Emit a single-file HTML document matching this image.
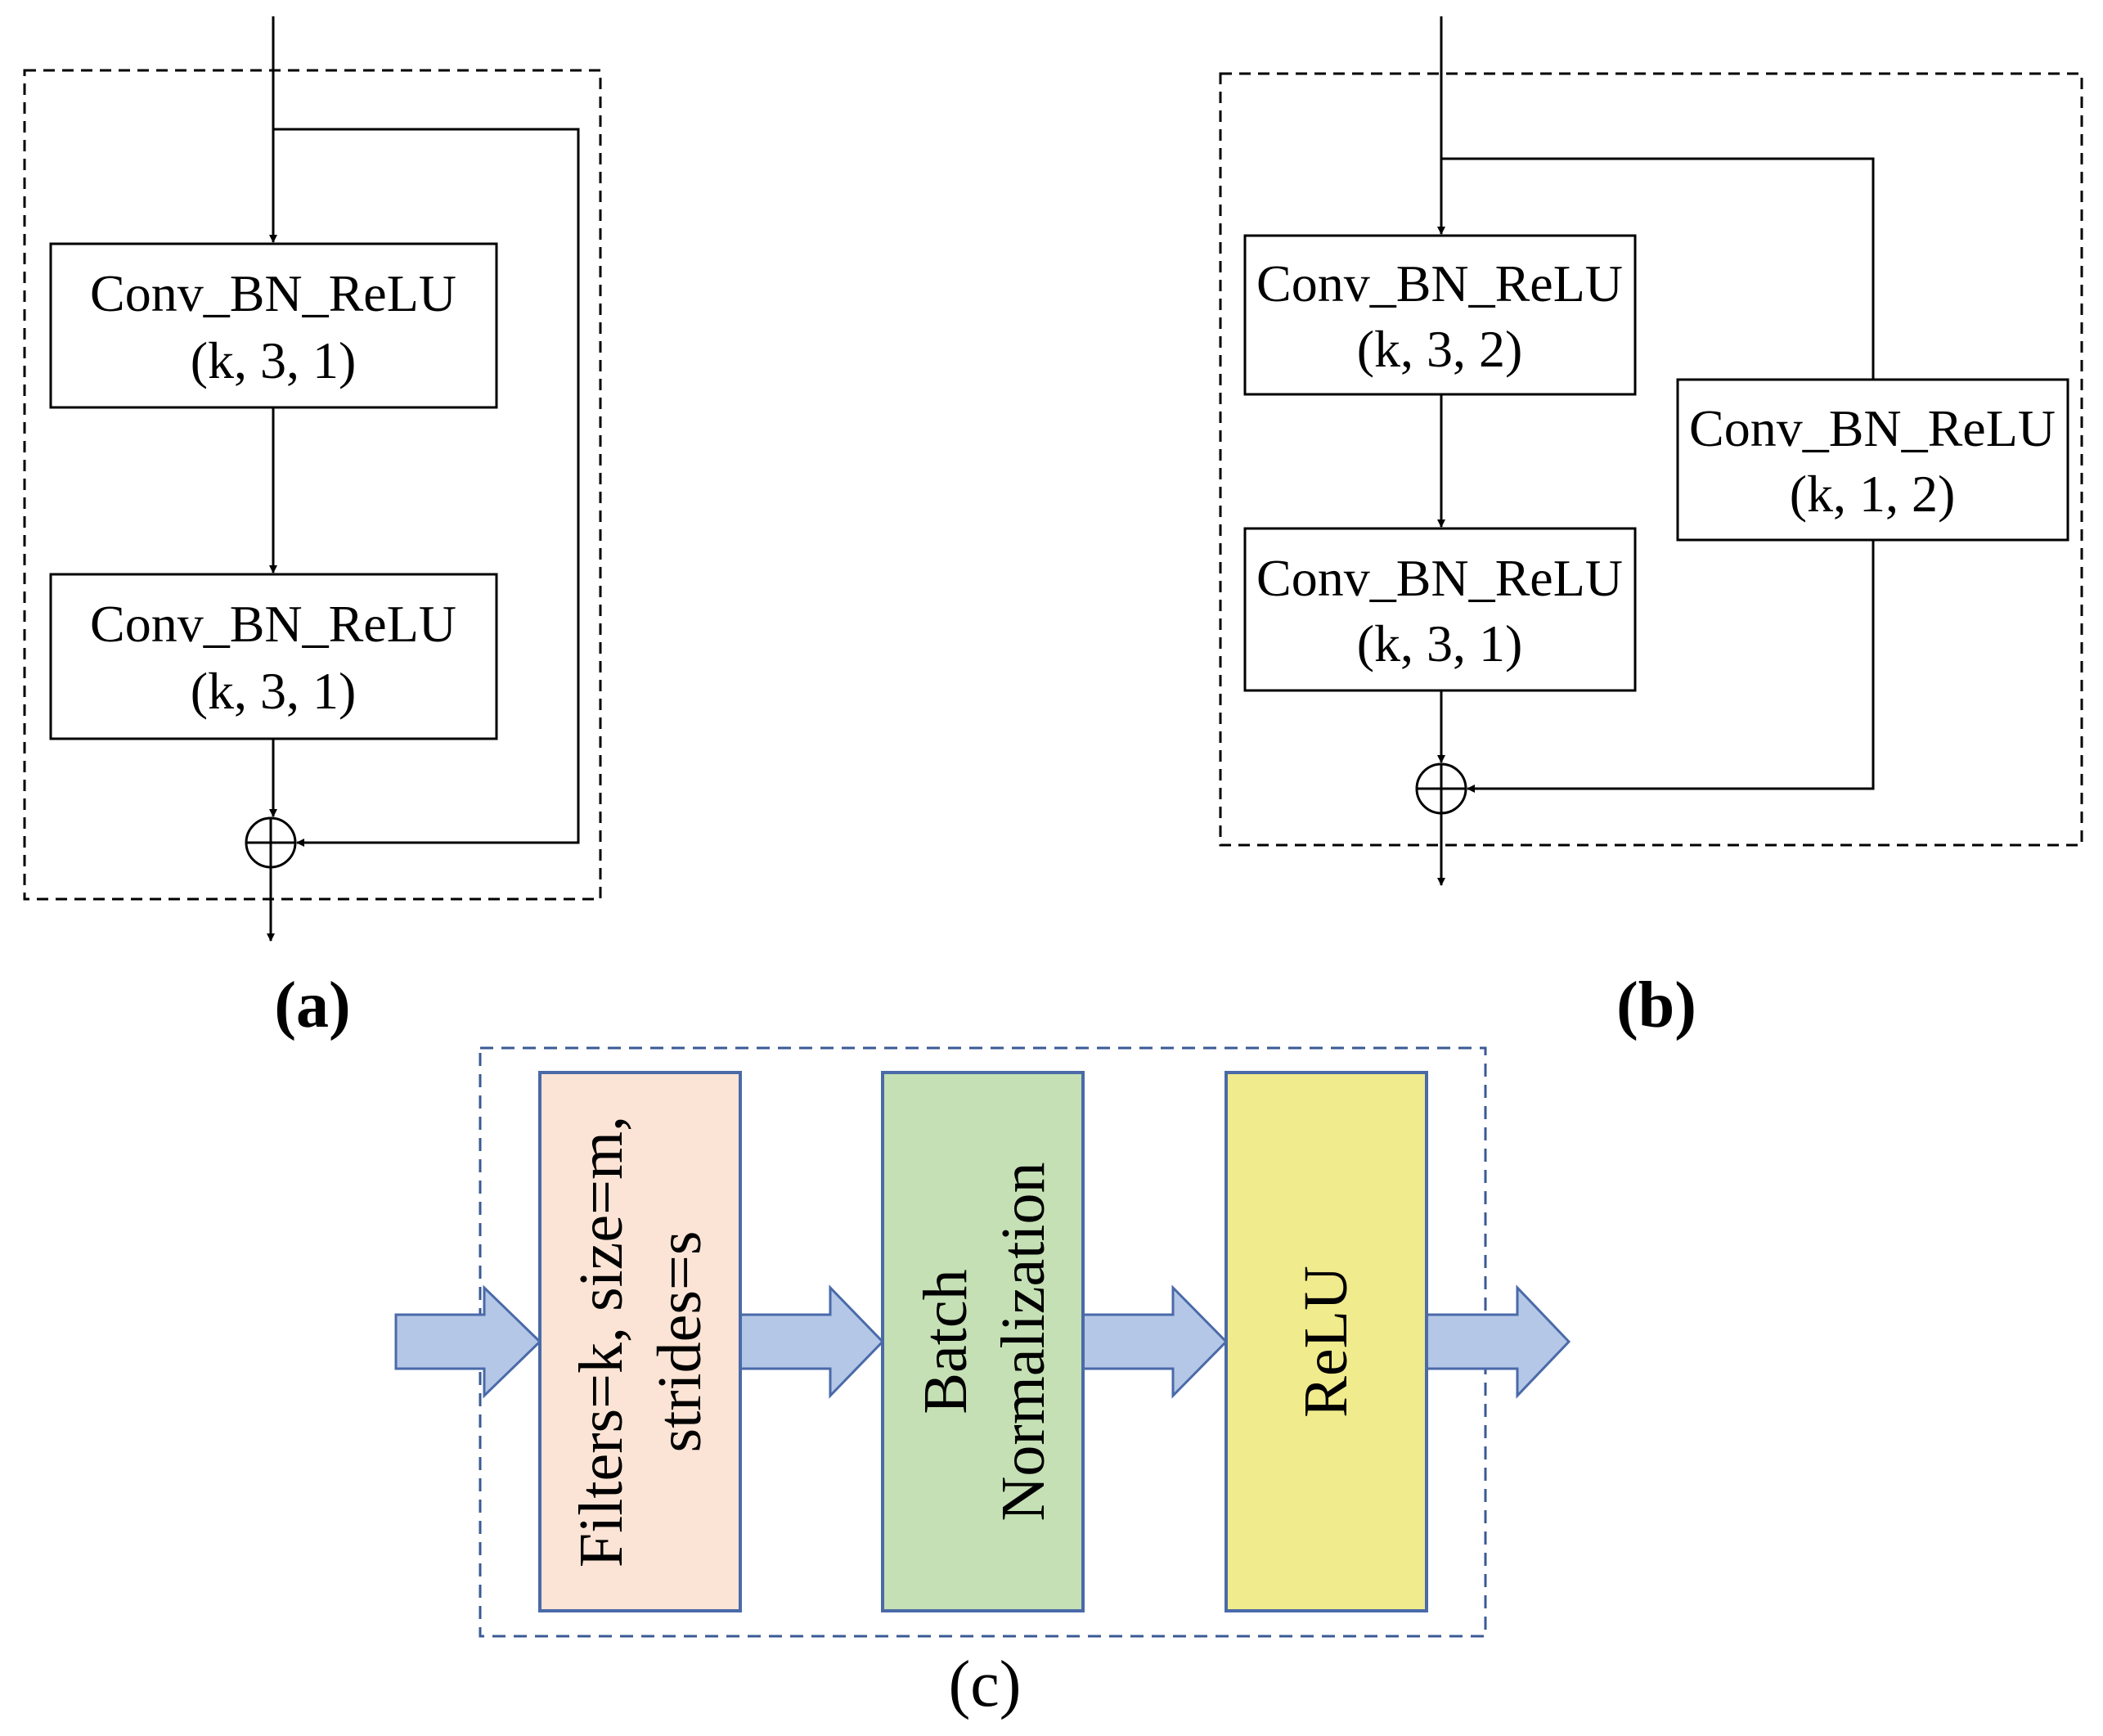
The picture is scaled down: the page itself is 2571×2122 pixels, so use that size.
<!DOCTYPE html>
<html><head><meta charset="utf-8"><style>
html,body{margin:0;padding:0;background:#fff;}
svg{display:block;}
text{font-family:"Liberation Serif",serif;fill:#000;}
</style></head><body>
<svg width="2571" height="2122" viewBox="0 0 2571 2122" xmlns="http://www.w3.org/2000/svg">
<defs>
<marker id="ah" markerWidth="10" markerHeight="10" refX="9" refY="5" orient="auto" markerUnits="userSpaceOnUse">
<path d="M0,0 L10,5 L0,10 z" fill="#000"/></marker>
</defs>
<g stroke="#000" stroke-width="3" fill="none">
<!-- (a) -->
<rect x="30" y="86" width="704" height="1013" stroke-dasharray="14,9"/>
<line x1="334" y1="20" x2="334" y2="296" marker-end="url(#ah)"/>
<polyline points="334,158 707,158 707,1030 363,1030" marker-end="url(#ah)"/>
<rect x="62" y="298" width="545" height="200" fill="#fff"/>
<line x1="334" y1="498" x2="334" y2="700" marker-end="url(#ah)"/>
<rect x="62" y="702" width="545" height="201" fill="#fff"/>
<line x1="334" y1="903" x2="334" y2="998" marker-end="url(#ah)"/>
<circle cx="331" cy="1030" r="30"/>
<line x1="301" y1="1030" x2="361" y2="1030"/>
<line x1="331" y1="1000" x2="331" y2="1150" marker-end="url(#ah)"/>
<!-- (b) -->
<rect x="1492" y="90" width="1053" height="943" stroke-dasharray="14,9"/>
<line x1="1762" y1="20" x2="1762" y2="286" marker-end="url(#ah)"/>
<polyline points="1762,194 2290,194 2290,464"/>
<rect x="1522" y="288" width="477" height="194" fill="#fff"/>
<line x1="1762" y1="482" x2="1762" y2="644" marker-end="url(#ah)"/>
<rect x="1522" y="646" width="477" height="198" fill="#fff"/>
<rect x="2051" y="464" width="477" height="196" fill="#fff"/>
<polyline points="2290,660 2290,964 1794,964" marker-end="url(#ah)"/>
<line x1="1762" y1="844" x2="1762" y2="932" marker-end="url(#ah)"/>
<circle cx="1762" cy="964" r="30"/>
<line x1="1732" y1="964" x2="1792" y2="964"/>
<line x1="1762" y1="934" x2="1762" y2="1082" marker-end="url(#ah)"/>
</g>
<g font-size="64" text-anchor="middle">
<text x="334" y="380">Conv_BN_ReLU</text><text x="334" y="462">(k, 3, 1)</text>
<text x="334" y="784">Conv_BN_ReLU</text><text x="334" y="866">(k, 3, 1)</text>
<text x="1760" y="368">Conv_BN_ReLU</text><text x="1760" y="448">(k, 3, 2)</text>
<text x="1760" y="728">Conv_BN_ReLU</text><text x="1760" y="808">(k, 3, 1)</text>
<text x="2289" y="545">Conv_BN_ReLU</text><text x="2289" y="625">(k, 1, 2)</text>
</g>
<text x="382" y="1255" font-size="80" font-weight="bold" text-anchor="middle">(a)</text>
<text x="2025" y="1255" font-size="80" font-weight="bold" text-anchor="middle">(b)</text>
<!-- (c) -->
<rect x="587" y="1281" width="1229" height="719" fill="none" stroke="#3a5a94" stroke-width="3" stroke-dasharray="16,10"/>
<g fill="#b4c7e7" stroke="#4a6aa8" stroke-width="3">
<path d="M484,1607 L592,1607 L592,1574 L660,1640 L592,1706 L592,1673 L484,1673 z"/>
<path d="M905,1607 L1015,1607 L1015,1574 L1079,1640 L1015,1706 L1015,1673 L905,1673 z"/>
<path d="M1324,1607 L1434,1607 L1434,1574 L1499,1640 L1434,1706 L1434,1673 L1324,1673 z"/>
<path d="M1744,1607 L1855,1607 L1855,1574 L1918,1640 L1855,1706 L1855,1673 L1744,1673 z"/>
</g>
<g stroke="#4a6aa8" stroke-width="4">
<rect x="660" y="1311" width="245" height="658" fill="#fbe4d5"/>
<rect x="1079" y="1311" width="245" height="658" fill="#c5e0b4"/>
<rect x="1499" y="1311" width="245" height="658" fill="#f0eb8c"/>
</g>
<g font-size="76" text-anchor="middle">
<text transform="translate(760,1640) rotate(-90)">Filters=k,  size=m,</text>
<text transform="translate(856,1640) rotate(-90)">strides=s</text>
<text transform="translate(1181,1640) rotate(-90)">Batch</text>
<text transform="translate(1276,1640) rotate(-90)">Normalization</text>
<text transform="translate(1646,1640) rotate(-90)">ReLU</text>
</g>
<text x="1204" y="2085" font-size="80" text-anchor="middle">(c)</text>
</svg>
</body></html>
